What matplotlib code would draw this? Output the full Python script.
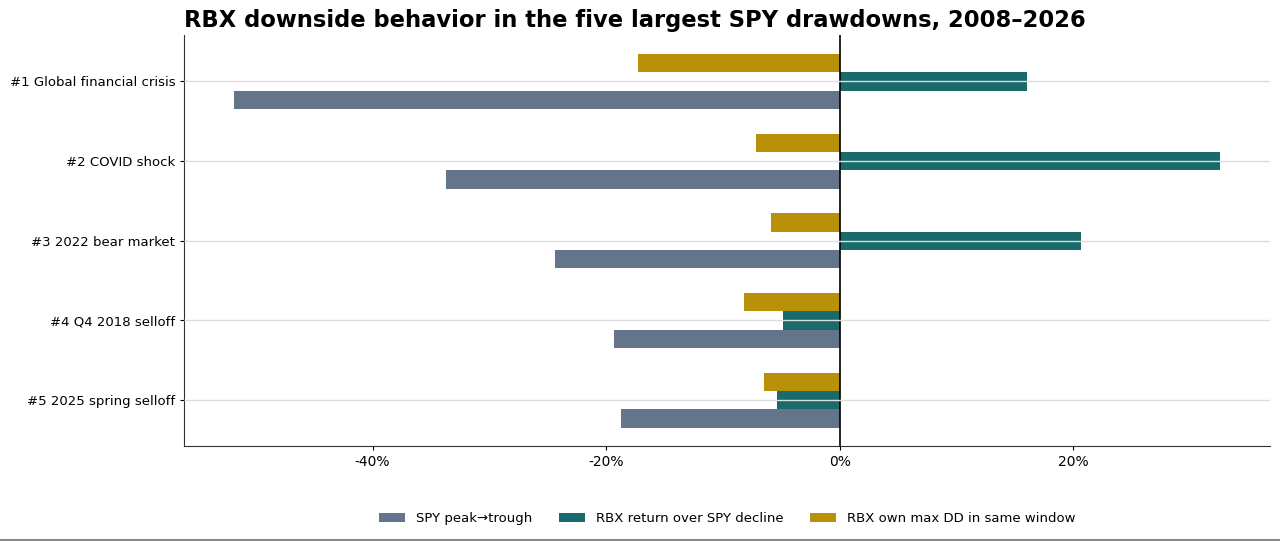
import matplotlib.pyplot as plt
from matplotlib.ticker import FuncFormatter
import numpy as np

events = ['#1 Global financial crisis', '#2 COVID shock', '#3 2022 bear market',
          '#4 Q4 2018 selloff', '#5 2025 spring selloff']
spy_drawdown = [-51.9, -33.7, -24.4, -19.3, -18.7]
rbx_return = [16.0, 32.6, 20.7, -4.9, -5.4]
rbx_max_dd = [-17.3, -7.2, -5.9, -8.2, -6.5]

y = np.arange(len(events))
h = 0.23

fig, ax = plt.subplots(figsize=(12.8, 5.41), dpi=100)
fig.subplots_adjust(left=0.144, right=0.992, top=0.935, bottom=0.175)

ax.barh(y + h, spy_drawdown, height=h, color='#64748b', label='SPY peak\u2192trough')
ax.barh(y, rbx_return, height=h, color='#196b6b', label='RBX return over SPY decline')
ax.barh(y - h, rbx_max_dd, height=h, color='#b8900a', label='RBX own max DD in same window')

ax.set_yticks(y)
ax.set_yticklabels(events, fontsize=9.5)
ax.invert_yaxis()
ax.grid(axis='y', color='#dddddd', linewidth=1)
ax.set_axisbelow(False)
ax.axvline(0, color='black', linewidth=1.2)

ax.xaxis.set_major_formatter(FuncFormatter(lambda v, p: '%d%%' % v))
ax.tick_params(axis='x', labelsize=10, length=3)
ax.tick_params(axis='y', length=3)

for s in ['top', 'right']:
    ax.spines[s].set_visible(False)
for s in ['left', 'bottom']:
    ax.spines[s].set_color('#333333')

ax.set_title('RBX downside behavior in the five largest SPY drawdowns, 2008\u20132026',
             fontsize=16.3, fontweight='bold', loc='left', x=0.0, pad=6)

handles, labels = ax.get_legend_handles_labels()
fig.legend(handles, labels, loc='center', bbox_to_anchor=(0.568, 0.042), ncol=3,
           frameon=False, fontsize=9.5, handlelength=2, columnspacing=2.0)

fig.add_artist(plt.Line2D([0, 1], [0.002, 0.002], color='#888888', linewidth=1.5,
                          transform=fig.transFigure))

fig.savefig('out.png', dpi=100)
